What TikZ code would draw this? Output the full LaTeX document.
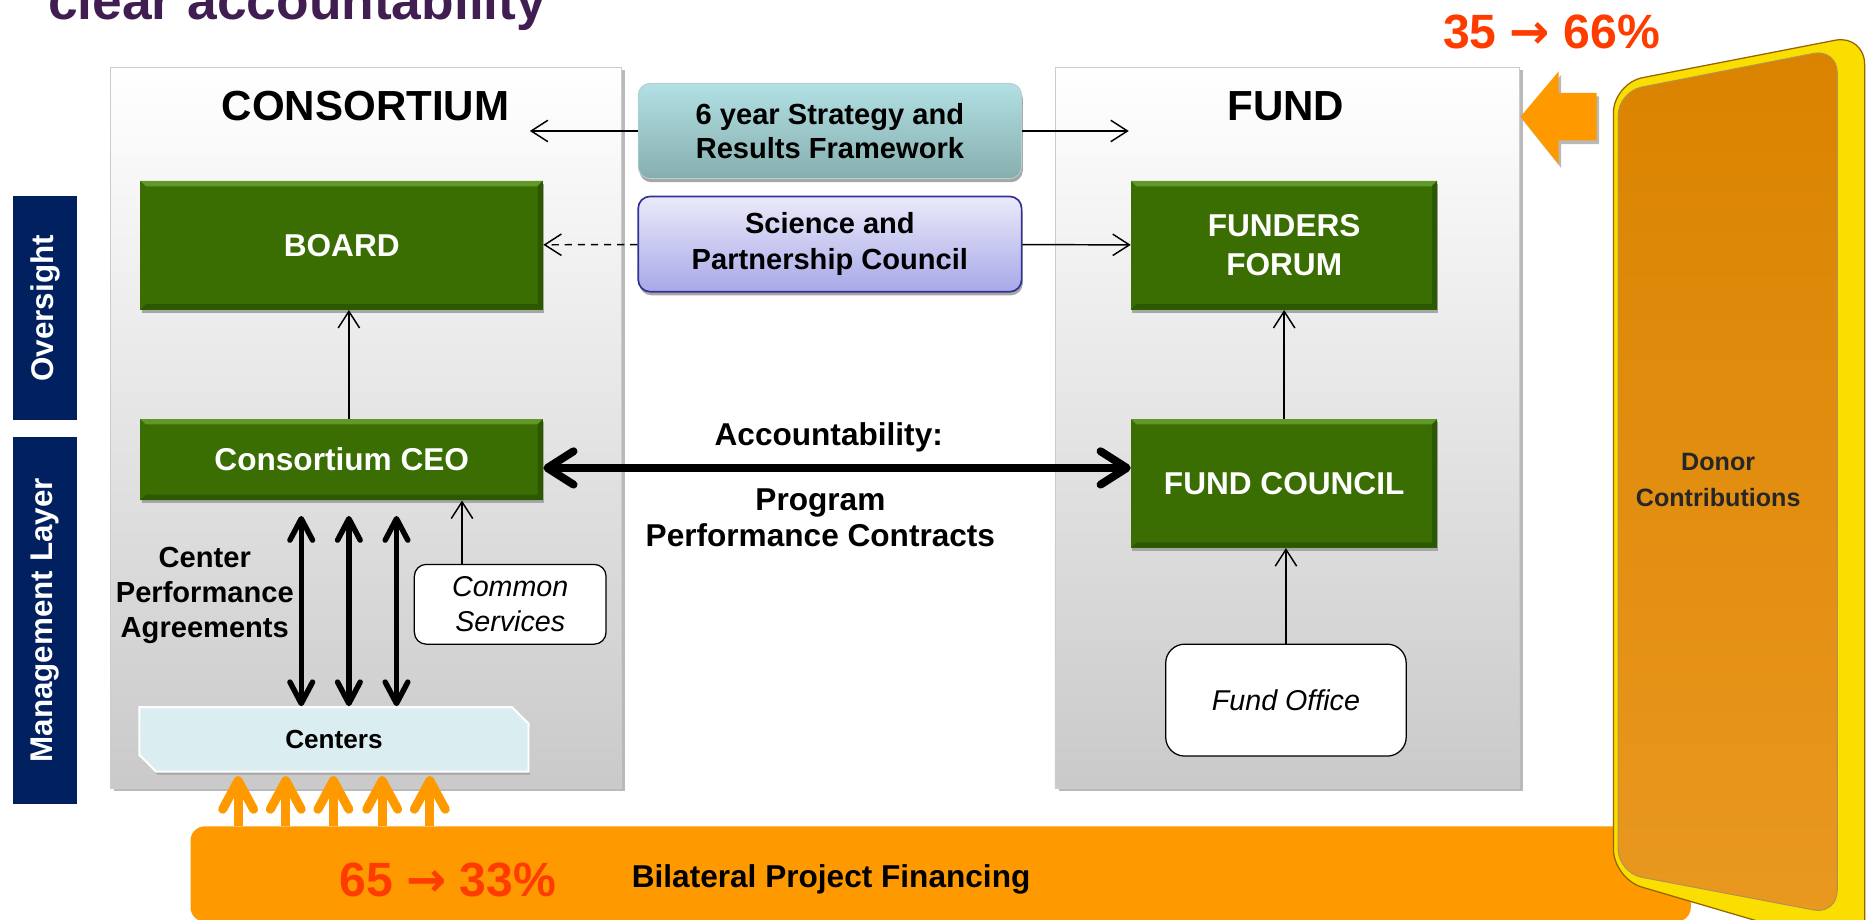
\documentclass[tikz,border=0pt]{standalone}
\usepackage{fontspec}
\setmainfont{Liberation Sans}
\newfontfamily\arrowfont{DejaVu Sans}
\usetikzlibrary{arrows.meta,shapes.misc,shadows}

\definecolor{titlepurple}{RGB}{64,30,82}
\definecolor{boxgreen}{RGB}{58,110,2}
\definecolor{greenlight}{RGB}{98,152,42}
\definecolor{greendark}{RGB}{44,88,0}
\definecolor{sidenavy}{RGB}{0,32,96}
\definecolor{barorange}{RGB}{255,153,0}
\definecolor{pctred}{RGB}{255,60,0}
\definecolor{tealtop}{RGB}{178,224,228}
\definecolor{tealbot}{RGB}{134,174,174}
\definecolor{lavtop}{RGB}{234,234,250}
\definecolor{lavbot}{RGB}{168,168,232}
\definecolor{lavedge}{RGB}{50,50,150}
\definecolor{centerfill}{RGB}{218,237,240}
\definecolor{donorface}{RGB}{218,131,0}
\definecolor{donorlow}{RGB}{233,152,32}
\definecolor{donorgold}{RGB}{250,222,0}
\definecolor{donoredge}{RGB}{150,100,0}

\newcommand{\pctarrow}{{\arrowfont\bfseries →}}

\begin{document}
\begin{tikzpicture}[x=0.2mm,y=-0.2mm]
\tikzstyle{every node}=[inner sep=0pt, align=center]
\tikzstyle{panel}=[rectangle, draw=gray!40, top color=white, bottom color=gray!42, drop shadow={shadow xshift=0.6mm, shadow yshift=-0.4mm, fill=gray!55, opacity=1}]
\tikzstyle{paneltitle}=[anchor=base, font=\fontsize{20.1}{24}\selectfont\bfseries]
\tikzstyle{greenbox}=[rectangle, fill=boxgreen, text=white, font=\fontsize{15.1}{18.5}\selectfont\bfseries, drop shadow={shadow xshift=0.2mm, shadow yshift=-0.5mm, fill=gray!70, opacity=1}, path picture={
  \fill[greenlight] (path picture bounding box.north west) -- (path picture bounding box.north east) -- ++(-0.9mm,-0.9mm) -- ([shift={(0.9mm,-0.9mm)}]path picture bounding box.north west) -- cycle;
  \fill[greendark] (path picture bounding box.north east) -- (path picture bounding box.south east) -- ++(-0.9mm,0.9mm) -- ([shift={(-0.9mm,-0.9mm)}]path picture bounding box.north east) -- cycle;
  \fill[greendark] (path picture bounding box.south west) -- (path picture bounding box.south east) -- ++(-0.9mm,0.9mm) -- ([shift={(0.9mm,0.9mm)}]path picture bounding box.south west) -- cycle;}]
\tikzstyle{strategybox}=[rectangle, rounded corners=2mm, draw=tealbot!60, top color=tealtop, bottom color=tealbot, font=\fontsize{13.9}{16.5}\selectfont\bfseries, drop shadow={shadow xshift=0.2mm, shadow yshift=-0.6mm, fill=gray!70, opacity=1}]
\tikzstyle{councilbox}=[rectangle, rounded corners=2mm, draw=lavedge, line width=0.8pt, top color=lavtop, bottom color=lavbot, font=\fontsize{13.9}{17}\selectfont\bfseries, drop shadow={shadow xshift=0.2mm, shadow yshift=-0.6mm, fill=gray!70, opacity=1}]
\tikzstyle{whitebox}=[rectangle, rounded corners=2mm, draw=black, line width=0.6pt, fill=white, font=\fontsize{13.7}{16.5}\selectfont\itshape]
\tikzstyle{sidebox}=[rectangle, fill=sidenavy, text=white, font=\fontsize{15}{18}\selectfont\bfseries, rotate=90]
\tikzstyle{centersbox}=[chamfered rectangle, chamfered rectangle corners={north east,south west}, chamfered rectangle xsep=1.8mm, chamfered rectangle angle=45, draw=white, line width=1pt, fill=centerfill, font=\fontsize{12.5}{15}\selectfont\bfseries, drop shadow={shadow xshift=0.2mm, shadow yshift=-0.5mm, fill=gray!70, opacity=1}]
\tikzstyle{bigtext}=[font=\fontsize{15.1}{17.2}\selectfont\bfseries]
\tikzstyle{pcttext}=[text=pctred, font=\fontsize{23}{27}\selectfont\bfseries]
\tikzstyle{thinarrow}=[line width=0.7pt, -{Straight Barb[length=2.8mm,width=3.6mm]}]
\tikzstyle{accarrow}=[line width=3.8pt, {Straight Barb[round,length=4.4mm,width=5.6mm]}-{Straight Barb[round,length=4.4mm,width=5.6mm]}]
\tikzstyle{cpaarrow}=[line width=2.6pt, {Straight Barb[round,length=3.6mm,width=3.8mm]}-{Straight Barb[round,length=3.6mm,width=3.8mm]}]
\tikzstyle{feedarrow}=[barorange, line width=4.3pt, -{Straight Barb[round,length=4.8mm,width=5.2mm]}]
\useasboundingbox (0,0) rectangle (1568,772);

% title, cut off by the page edge
\draw (40,16) node (title) [anchor=base west, text=titlepurple, font=\fontsize{25.5}{30}\selectfont\bfseries] {clear accountability};

\draw (307.5,359.5) node (cons) [panel, minimum width=85.8mm, minimum height=121mm] {};
\draw (1081,359.5) node (fund) [panel, minimum width=78mm, minimum height=121mm] {};
\draw (307,101) node (constitle) [paneltitle] {CONSORTIUM};
\draw (1080,101) node (fundtitle) [paneltitle] {FUND};

\draw (38,259) node (oversight) [sidebox, minimum width=37.6mm, minimum height=10.8mm] {Oversight};
\draw (38,521) node (mgmt) [sidebox, minimum width=61.6mm, minimum height=10.8mm] {Management Layer};

\draw (697,110) node (strategy) [strategybox, minimum width=64.4mm, minimum height=16mm] {6 year Strategy and\\Results Framework};
\draw (697,205) node (spc) [councilbox, minimum width=64.4mm, minimum height=16mm] {Science and\\Partnership Council};

\draw (287,206) node (board) [greenbox, minimum width=67.6mm, minimum height=21.6mm] {BOARD};
\draw (287,386) node (ceo) [greenbox, minimum width=67.6mm, minimum height=13.6mm] {Consortium CEO};
\draw (1078.5,206) node (forum) [greenbox, minimum width=51.4mm, minimum height=21.6mm] {FUNDERS\\FORUM};
\draw (1078.5,406) node (council) [greenbox, minimum width=51.4mm, minimum height=21.6mm] {FUND COUNCIL};

\draw (428.5,507.5) node (common) [whitebox, minimum width=32.2mm, minimum height=13.4mm] {Common\\Services};
\draw (1080,588) node (office) [whitebox, rounded corners=3.2mm, minimum width=40.4mm, minimum height=18.8mm] {Fund Office};
\draw (280.5,621) node (centers) [centersbox, minimum width=65.4mm, minimum height=10.8mm] {Centers};

\coordinate (stratleft) at (445,110);
\coordinate (stratright) at (948,110);
\coordinate (accline) at (700,393);
\coordinate (cstop) at (388,474);

\draw[thinarrow] (strategy) -- (stratleft);
\draw[thinarrow] (strategy) -- (stratright);
\draw[thinarrow, dash pattern=on 1.2mm off 1mm] (spc) -- (board);
\draw[thinarrow] (spc) -- (forum);
\draw[thinarrow] (ceo.north -| 293,0) -- (board.south -| 293,0);
\draw[thinarrow] (council) -- (forum);
\draw[thinarrow] (office.north) -- (office.north |- council.south);
\draw[thinarrow] (cstop) -- (cstop |- ceo.south);
\draw[accarrow] (ceo.east |- accline) -- (council.west |- accline);
\foreach \x in {253,293,333}
  \draw[cpaarrow, shorten >=2.6mm] (centers.north -| \x,0) -- (ceo.south -| \x,0);

\draw (696,374) node (acclabel) [anchor=base, bigtext] {Accountability:};
\draw (689,435) node (pclabel) [bigtext] {Program\\Performance Contracts};
\draw (172,500) node (cpalabel) [font=\fontsize{13.9}{16.8}\selectfont\bfseries] {Center\\Performance\\Agreements};

\draw (790,734) node (bilat) [rectangle, rounded corners=2.4mm, fill=barorange, minimum width=252mm, minimum height=16mm] {};
\foreach \x in {200,240,280,321,361}
  \draw[feedarrow, shorten >=0.6mm] (bilat.north -| \x,0) -- (centers.south -| \x,0);
\draw (376,753) node (bilatpct) [anchor=base, pcttext] {65 \pctarrow{} 33\%};
\draw (698,745) node (bilattext) [anchor=base, bigtext] {Bilateral Project Financing};

% donor block
\draw[donoredge, fill=donorgold, rounded corners=5mm, line width=0.6pt] (1355,70) -- (1566,29) -- (1566,800) -- (1355,738) -- cycle;
\shade[top color=donorface, bottom color=donorlow, rounded corners=4mm] (1359,77) -- (1543,41) -- (1543,768) -- (1359,733) -- cycle;
\draw[donoredge!70, line width=0.5pt, rounded corners=4mm] (1359,77) -- (1543,41) -- (1543,768) -- (1359,733) -- cycle;
\draw (1443,403) node (donor) [text=black!85, font=\fontsize{12}{17}\selectfont\bfseries] {Donor\\Contributions};

\fill[gray!55] (1343,81) -- (1311,81) -- (1311,63) -- (1279,101) -- (1311,141) -- (1311,121) -- (1343,121) -- cycle;
\fill[barorange] (1341,78) -- (1309,78) -- (1309,60) -- (1277,98) -- (1309,138) -- (1309,118) -- (1341,118) -- cycle;
\draw (1303,41) node (fundpct) [anchor=base, pcttext] {35 \pctarrow{} 66\%};
\end{tikzpicture}
\end{document}
